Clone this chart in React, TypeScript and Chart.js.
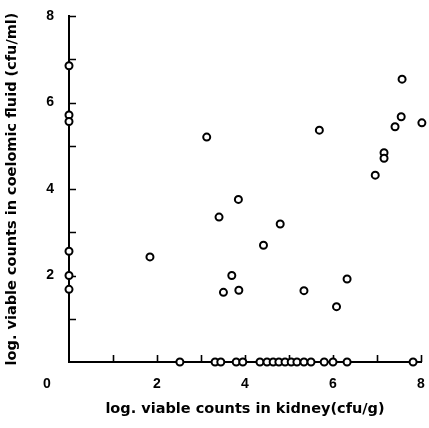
import React, { useEffect, useRef } from "react";
import { Chart, registerables } from "chart.js";

Chart.register(...registerables);

// log. viable counts in kidney (cfu/g) — x values
const kidneyLog = [
  7.57, 7.55, 7.41, 8.02, 5.69, 3.13, 7.16, 7.16, 6.96, 3.85,
  3.41, 4.80, 4.42, 1.84, 3.70, 3.51, 3.86, 5.34, 6.32, 6.08,
  0, 0, 0, 0, 0, 0,
  2.52, 3.32, 3.45, 3.80, 3.95, 4.34, 4.50, 4.64, 4.77, 4.91,
  5.05, 5.18, 5.34, 5.50, 5.80, 6.00, 6.32, 7.82,
];

// log. viable counts in coelomic fluid (cfu/ml) — y values
const fluidLog = [
  6.54, 5.67, 5.44, 5.53, 5.36, 5.20, 4.84, 4.71, 4.32, 3.76,
  3.35, 3.19, 2.70, 2.43, 2.00, 1.61, 1.66, 1.65, 1.92, 1.28,
  6.85, 5.71, 5.56, 2.56, 2.00, 1.68,
  0, 0, 0, 0, 0, 0, 0, 0, 0, 0,
  0, 0, 0, 0, 0, 0, 0, 0,
];

const axisMin = 0;
const axisMax = 8;
const labelledTicks = [2, 4, 6, 8];
const originLabel = "0";
const xTitle = "log. viable counts in kidney(cfu/g)";
const yTitle = "log. viable counts in coelomic fluid (cfu/ml)";

const FONT = "'Liberation Sans', Arial, Helvetica, sans-serif";
const TITLE_FONT = "'DejaVu Sans', 'Liberation Sans', Arial, sans-serif";

const inwardTicks = {
  id: "inwardTicks",
  beforeDatasetsDraw(chart: any) {
    const { ctx, scales } = chart;
    const xs = scales.x;
    const ys = scales.y;
    const len = 7;
    ctx.save();
    ctx.strokeStyle = "#000";
    ctx.lineWidth = 1.6;
    ctx.beginPath();
    xs.ticks.forEach((t: any) => {
      if (t.value === axisMin) return;
      const px = Math.round(xs.getPixelForValue(t.value)) + 0.5;
      ctx.moveTo(px, ys.bottom);
      ctx.lineTo(px, ys.bottom - len);
    });
    ys.ticks.forEach((t: any) => {
      if (t.value === axisMin) return;
      const py = Math.round(ys.getPixelForValue(t.value)) + 0.5;
      ctx.moveTo(xs.left, py);
      ctx.lineTo(xs.left + len, py);
    });
    ctx.stroke();
    ctx.restore();
  },
  afterDraw(chart: any) {
    const { ctx, scales } = chart;
    const xs = scales.x;
    const items = xs.getLabelItems();
    const ref = items.find((i: any) => i.label === String(labelledTicks[0]));
    if (!ref) return;
    ctx.save();
    ctx.fillStyle = "#000";
    ctx.font = `bold 14px ${FONT}`;
    ctx.textAlign = "center";
    ctx.textBaseline = ref.options.textBaseline || "middle";
    ctx.fillText(
      originLabel,
      xs.getPixelForValue(axisMin) - 22,
      ref.options.translation[1] + (ref.textOffset || 0)
    );
    ctx.restore();
  },
};

export default function App() {
  const ref = useRef<HTMLCanvasElement>(null);

  useEffect(() => {
    document.body.style.margin = "0";
    const points = kidneyLog.map((x, i) => ({ x, y: fluidLog[i] }));
    const chart = new Chart(ref.current as HTMLCanvasElement, {
      type: "scatter",
      data: {
        datasets: [
          {
            data: points,
            pointStyle: "circle",
            pointRadius: 3.5,
            pointBorderWidth: 2,
            pointBorderColor: "#000",
            pointBackgroundColor: "#fff",
            clip: false as any,
          } as any,
        ],
      },
      options: {
        animation: false,
        responsive: true,
        maintainAspectRatio: false,
        layout: { autoPadding: false, padding: { top: 16, right: 8, bottom: 0, left: 0 } },
        plugins: {
          legend: { display: false },
          tooltip: { enabled: false },
        },
        scales: {
          x: {
            type: "linear",
            position: "bottom",
            min: axisMin,
            max: axisMax,
            grid: { display: false, drawTicks: false },
            border: { display: true, color: "#000", width: 2 },
            ticks: {
              stepSize: 1,
              autoSkip: false,
              maxRotation: 0,
              padding: 14,
              color: "#000",
              font: { family: FONT, size: 14, weight: "bold" },
              callback: (v: any) => (labelledTicks.includes(Number(v)) ? String(v) : ""),
            },
            title: {
              display: true,
              text: xTitle,
              color: "#000",
              font: { family: TITLE_FONT, size: 14.5, weight: "bold" },
              padding: { top: 0, bottom: 10 },
            },
            afterFit: (s: any) => {
              s.height = 66;
              s.paddingLeft = 0;
              s.paddingRight = 0;
            },
          },
          y: {
            type: "linear",
            min: axisMin,
            max: axisMax,
            grid: { display: false, drawTicks: false },
            border: { display: true, color: "#000", width: 2 },
            ticks: {
              stepSize: 1,
              autoSkip: false,
              padding: 15,
              color: "#000",
              font: { family: FONT, size: 14, weight: "bold" },
              callback: (v: any) => (labelledTicks.includes(Number(v)) ? String(v) : ""),
            },
            title: {
              display: true,
              text: yTitle,
              color: "#000",
              font: { family: TITLE_FONT, size: 14.5, weight: "bold" },
              padding: { top: 4, bottom: 0 },
            },
            afterFit: (s: any) => {
              s.width = 69;
              s.paddingTop = 0;
              s.paddingBottom = 0;
            },
          },
        },
      },
      plugins: [inwardTicks],
    });
    return () => chart.destroy();
  }, []);

  return (
    <div style={{ position: "relative", width: 429, height: 428 }}>
      <canvas ref={ref} />
    </div>
  );
}
